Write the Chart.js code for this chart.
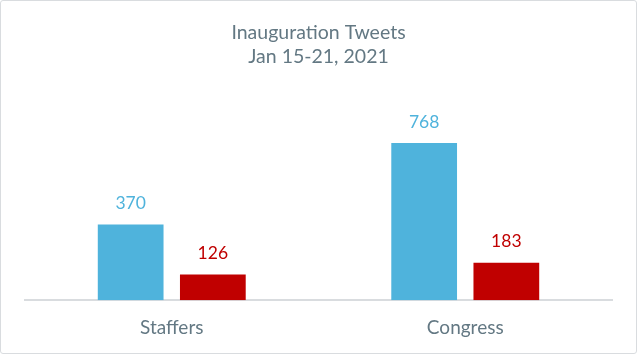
<!DOCTYPE html>
<html>
<head>
<meta charset="utf-8">
<script src="https://cdn.jsdelivr.net/npm/chart.js@4"></script>
<style>
  body { margin: 0; background: #fff; }
  #box { width: 635px; height: 352px; border: 1px solid #d9dcdf; border-radius: 3px; }
</style>
</head>
<body>
<div id="box"><canvas id="chart" width="635" height="352"></canvas></div>
<script>
// data
const categories = ["Staffers", "Congress"];
const seriesA = [370, 768];
const seriesB = [126, 183];
const seriesColors = ["#4FB3DC", "#C00000"];
const textGray = "#637883";

// draws value above each bar
const valueLabels = {
  id: "valueLabels",
  afterDatasetsDraw(chart) {
    const ctx = chart.ctx;
    ctx.save();
    ctx.font = "17.5px Lato";
    ctx.textAlign = "center";
    ctx.textBaseline = "middle";
    chart.data.datasets.forEach(function (ds, i) {
      chart.getDatasetMeta(i).data.forEach(function (bar, j) {
        ctx.fillStyle = ds.backgroundColor;
        ctx.fillText(ds.data[j], bar.x, bar.y - 21);
      });
    });
    ctx.restore();
  }
};

new Chart(document.getElementById("chart"), {
  type: "bar",
  data: {
    labels: categories,
    datasets: [
      { data: seriesA, backgroundColor: seriesColors[0] },
      { data: seriesB, backgroundColor: seriesColors[1] }
    ]
  },
  options: {
    responsive: false,
    animation: false,
    layout: { padding: { left: 24, right: 24, top: 0, bottom: 6 } },
    datasets: { bar: { categoryPercentage: 0.56, barPercentage: 0.8 } },
    scales: {
      x: {
        grid: { display: false },
        border: { color: "#d9dcdf", width: 2 },
        ticks: { color: textGray, font: { family: "Lato", size: 19 }, padding: 8 }
      },
      y: {
        display: false,
        min: 0,
        max: 900
      }
    },
    plugins: {
      legend: { display: false },
      tooltip: { enabled: false },
      title: {
        display: true,
        text: ["Inauguration Tweets", "Jan 15-21, 2021"],
        color: textGray,
        font: { family: "Lato", size: 19.5, weight: "normal", lineHeight: 1.23 },
        padding: { top: 20, bottom: 47 }
      }
    }
  },
  plugins: [valueLabels]
});
</script>
</body>
</html>
